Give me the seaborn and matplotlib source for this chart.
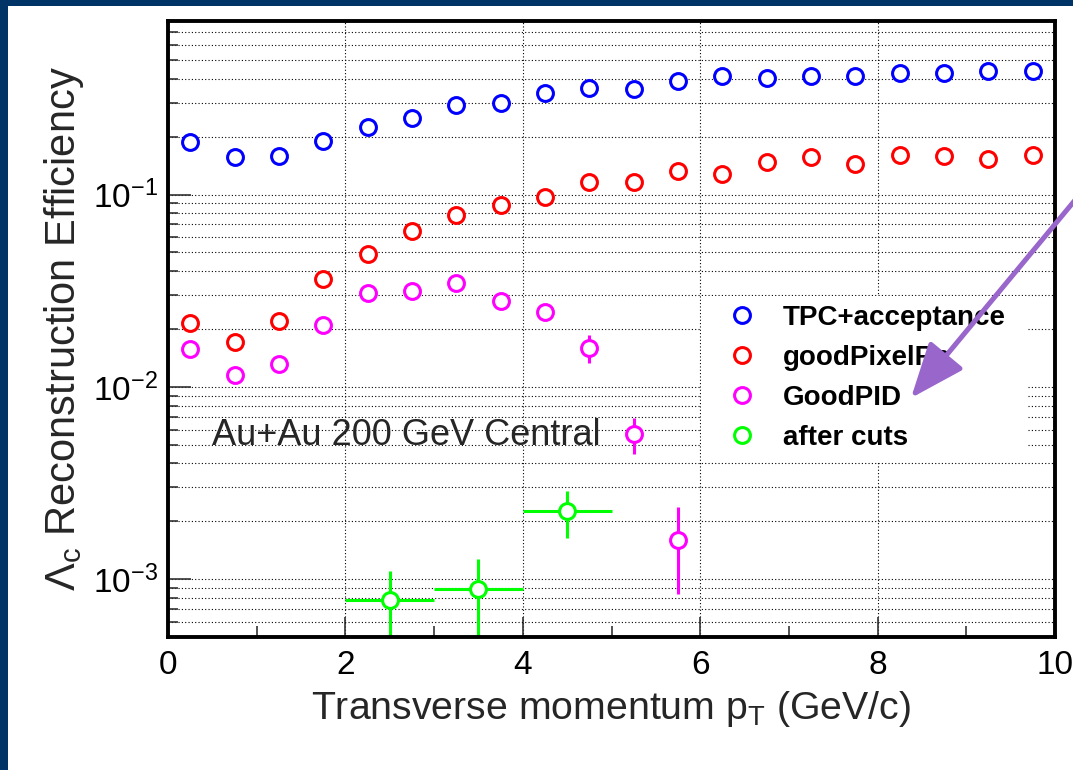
import numpy as np
import pandas as pd
import matplotlib
matplotlib.use("Agg")
import matplotlib.pyplot as plt
import seaborn as sns
from matplotlib.lines import Line2D
from matplotlib.patches import Rectangle
from matplotlib.ticker import LogLocator, MultipleLocator, NullFormatter

# ---------------- data ----------------
pt_bins = [0.25, 0.75, 1.25, 1.75, 2.25, 2.75, 3.25, 3.75, 4.25, 4.75,
           5.25, 5.75, 6.25, 6.75, 7.25, 7.75, 8.25, 8.75, 9.25, 9.75]
tpc_acc = [0.188, 0.156, 0.159, 0.191, 0.225, 0.251, 0.293, 0.300, 0.339, 0.360,
           0.355, 0.391, 0.415, 0.405, 0.415, 0.415, 0.430, 0.428, 0.440, 0.437]
good_pixel = [0.0214, 0.0172, 0.0219, 0.0366, 0.0494, 0.065, 0.0787, 0.0887, 0.0976, 0.117,
              0.117, 0.132, 0.128, 0.147, 0.156, 0.145, 0.161, 0.159, 0.154, 0.161]
pid_pt = [0.25, 0.75, 1.25, 1.75, 2.25, 2.75, 3.25, 3.75, 4.25, 4.75, 5.25, 5.75]
good_pid = [0.0157, 0.01148, 0.0131, 0.0209, 0.0306, 0.0317, 0.0345, 0.0281, 0.0244, 0.0160,
            0.00566, 0.0016]
good_pid_err = [0.0011, 0.0008, 0.0009, 0.0012, 0.0015, 0.0015, 0.0016, 0.0020, 0.0020, 0.0027,
                0.0012, 0.00076]
cuts_pt = [2.5, 3.5, 4.5]
after_cuts = [0.000778, 0.000887, 0.00225]
after_cuts_err = [0.00032, 0.00038, 0.00062]
cuts_pt_err = [0.5, 0.5, 0.5]

labels = ["TPC+acceptance", "goodPixelRc", "GoodPID", "after cuts"]
colors = ["#0000FF", "#FF0000", "#FF00FF", "#00FF00"]

# ---------------- style ----------------
sns.set_style("ticks")
plt.rcParams["font.family"] = ["Liberation Sans", "DejaVu Sans"]
plt.rcParams["mathtext.fontset"] = "custom"
plt.rcParams["mathtext.rm"] = "Liberation Sans"
plt.rcParams["mathtext.it"] = "Liberation Sans:italic"
plt.rcParams["mathtext.bf"] = "Liberation Sans:bold"

fig = plt.figure(figsize=(10.73, 7.70), dpi=100, facecolor="white")
ax = fig.add_axes([168 / 1073, 1 - 637 / 770, (1055 - 168) / 1073, (637 - 21) / 770])

# navy border strips
fig.patches.append(Rectangle((0, 0), 8 / 1073, 1, transform=fig.transFigure,
                             facecolor="#003366", edgecolor="none", zorder=0))
fig.patches.append(Rectangle((0, 1 - 6 / 770), 1, 6 / 770, transform=fig.transFigure,
                             facecolor="#003366", edgecolor="none", zorder=0))

frames = [
    pd.DataFrame({"pt": pt_bins, "eff": tpc_acc, "series": labels[0]}),
    pd.DataFrame({"pt": pt_bins, "eff": good_pixel, "series": labels[1]}),
    pd.DataFrame({"pt": pid_pt, "eff": good_pid, "series": labels[2]}),
    pd.DataFrame({"pt": cuts_pt, "eff": after_cuts, "series": labels[3]}),
]

LW = 2.2

# error bars
ax.errorbar(pid_pt, good_pid, yerr=good_pid_err, fmt="none", ecolor=colors[2],
            elinewidth=LW, capsize=0, zorder=2)
ax.errorbar(cuts_pt, after_cuts, yerr=after_cuts_err, xerr=cuts_pt_err, fmt="none",
            ecolor=colors[3], elinewidth=LW, capsize=0, zorder=2)

# markers
for df, c in zip(frames, colors):
    sns.scatterplot(data=df, x="pt", y="eff", ax=ax, marker="o", s=130,
                    color=c, legend=False, zorder=3)
    coll = ax.collections[-1]
    coll.set_facecolor("white")
    coll.set_edgecolor(c)
    coll.set_linewidth(LW)

ax.set_yscale("log")
ax.set_xlim(0, 10)
ax.set_ylim(5e-4, 0.8)

ax.xaxis.set_major_locator(MultipleLocator(2))
ax.xaxis.set_minor_locator(MultipleLocator(1))
ax.yaxis.set_major_locator(LogLocator(base=10, numticks=10))
ax.yaxis.set_minor_locator(LogLocator(base=10, subs=np.arange(2, 10), numticks=20))
ax.yaxis.set_minor_formatter(NullFormatter())

ax.grid(True, which="major", axis="x", color="black", linestyle=(0, (1, 2)), linewidth=0.8)
ax.grid(True, which="both", axis="y", color="black", linestyle=(0, (1, 2)), linewidth=0.8)
ax.set_axisbelow(True)

for s in ax.spines.values():
    s.set_linewidth(2.8)
    s.set_color("black")

ax.tick_params(axis="both", which="both", direction="in", top=False, right=False,
               labelsize=24, colors="#333333", labelcolor="black")
ax.tick_params(axis="y", which="major", length=16.5, width=1.2, pad=7)
ax.tick_params(axis="y", which="minor", length=7, width=1.2)
ax.tick_params(axis="x", which="major", length=14.5, width=1.2, pad=9)
ax.tick_params(axis="x", which="minor", length=8, width=1.2)

ax.set_xlabel(r"Transverse momentum $\mathrm{p_{T}}$ (GeV/c)", fontsize=28.3, labelpad=6)
ax.set_ylabel(r"$\Lambda_{\mathrm{c}}$ Reconstruction Efficiency", fontsize=30, labelpad=5)

ax.text(0.5, 0.005, "Au+Au 200 GeV Central", fontsize=26, ha="left", va="baseline",
        zorder=4)

# legend background box
ax.add_patch(Rectangle(((701 - 168) / 887, (637 - 462) / 616), (1027 - 701) / 887,
                       (462 - 296) / 616, transform=ax.transAxes, facecolor="white",
                       edgecolor="none", zorder=4.5))

# legend
handles = [Line2D([0], [0], marker="o", linestyle="none", markersize=11.4,
                  markerfacecolor="white", markeredgecolor=c, markeredgewidth=LW)
           for c in colors]
leg = ax.legend(handles, labels, loc="upper left",
                bbox_to_anchor=((728 - 168) / 887, (637 - 305) / 616),
                frameon=False, prop={"weight": "bold", "size": 20},
                handlelength=1.0, handletextpad=0.97, labelspacing=0.50,
                borderpad=0, borderaxespad=0, markerscale=1.0)
leg.set_zorder(5)
for t in leg.get_texts():
    t.set_color("black")

# arrow
ax.annotate("", xy=(911 / 1073, 1 - 398 / 770), xycoords="figure fraction",
            xytext=(1100 / 1073, 1 - 170 / 770), textcoords="figure fraction",
            arrowprops=dict(arrowstyle="-|>,head_length=0.85,head_width=0.34",
                            mutation_scale=40, color="#9966CC", lw=3.6,
                            shrinkA=0, shrinkB=0),
            annotation_clip=False, zorder=10)

fig.savefig("out.png", dpi=100, facecolor="white")
